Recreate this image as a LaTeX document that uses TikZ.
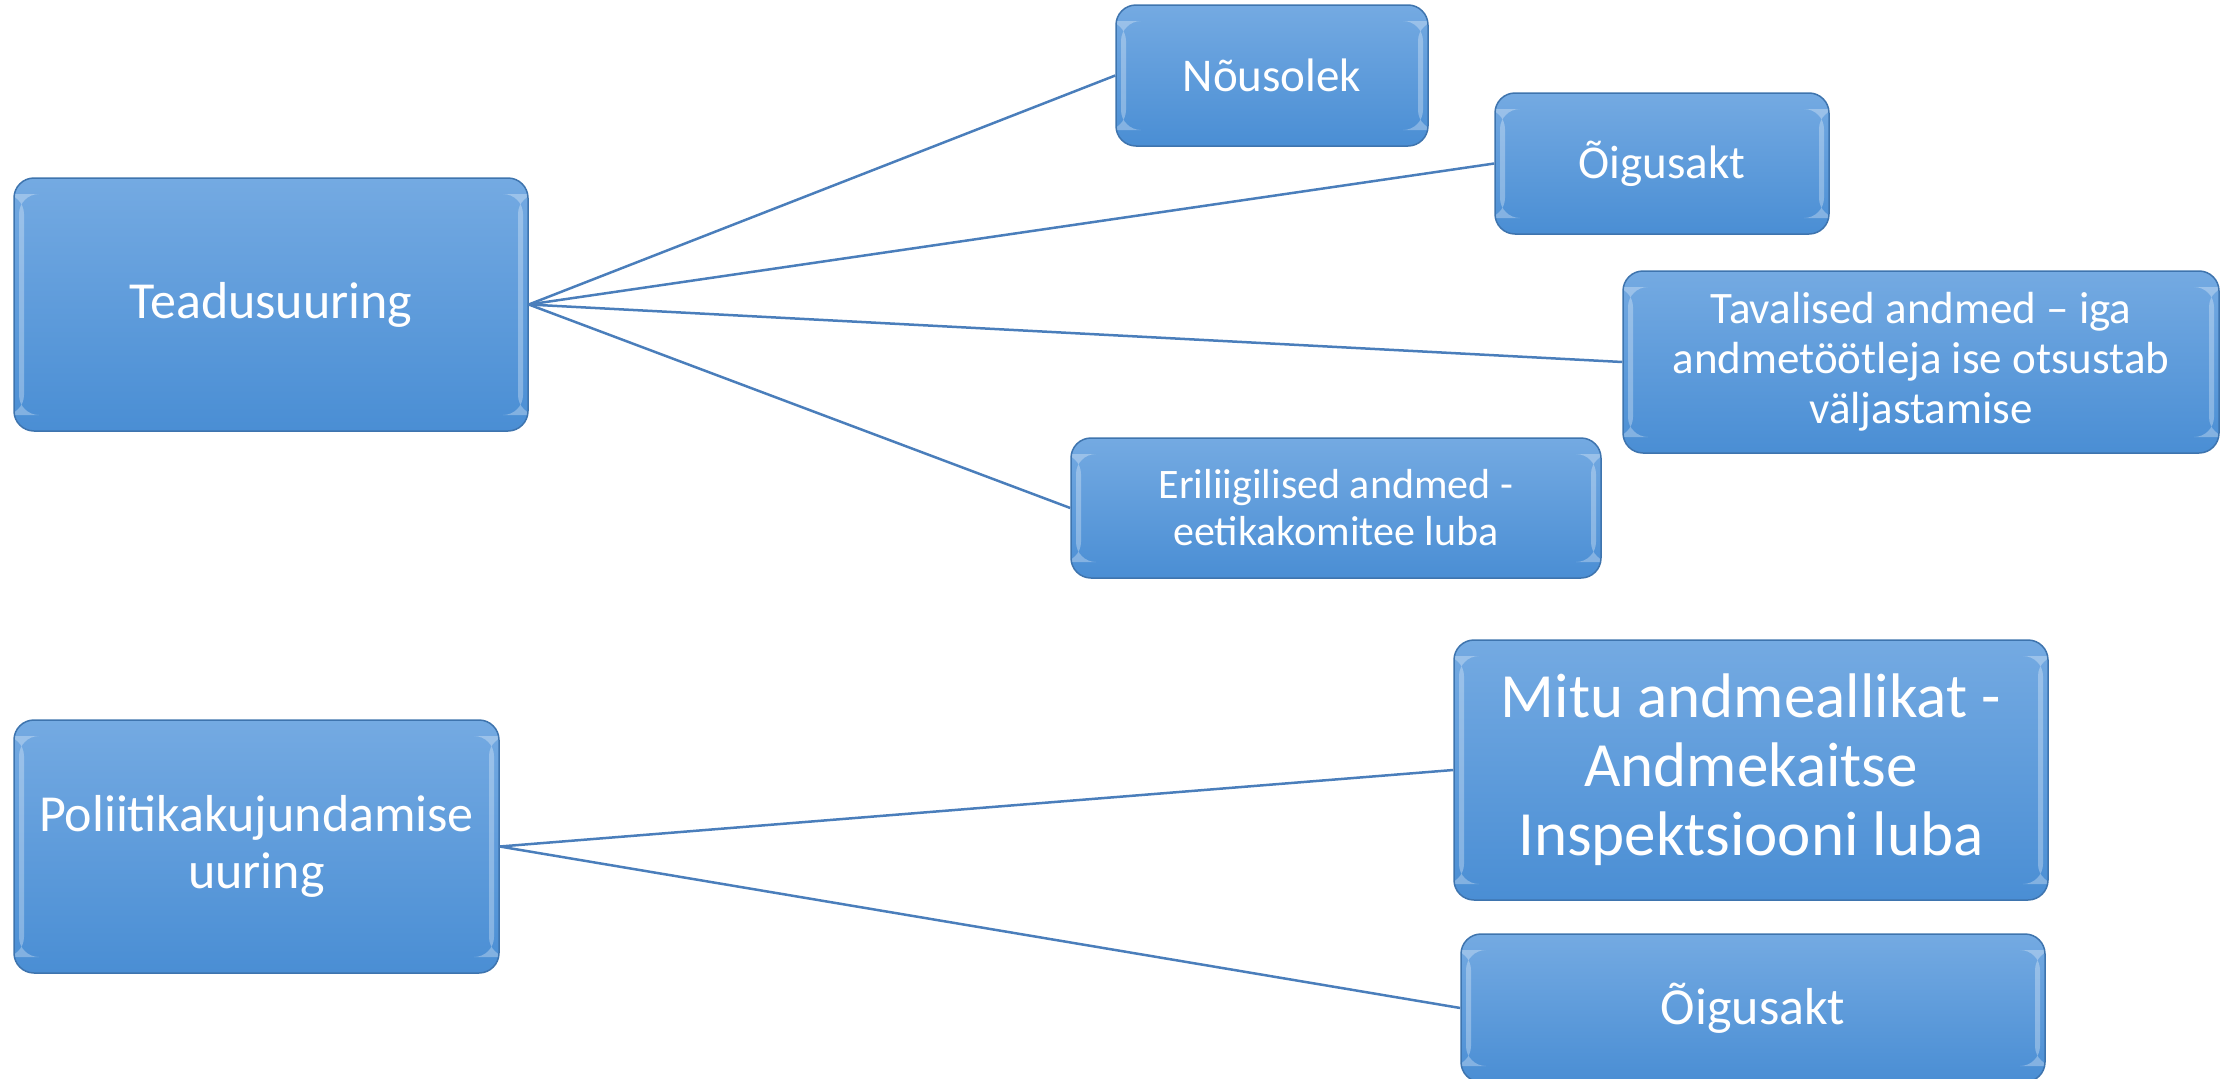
\documentclass[tikz,border=0pt]{standalone}
\usepackage{fontspec}
\setmainfont{Carlito}
\usepackage{tikz}

\definecolor{boxtop}{HTML}{74AAE2}
\definecolor{boxbot}{HTML}{4A8ED4}
\definecolor{boxedge}{HTML}{3E74AE}
\definecolor{linkblue}{HTML}{4A7EBB}

\tikzset{
  box/.style={rectangle, rounded corners=20pt, draw=boxedge, line width=1.5pt,
    top color=boxtop, bottom color=boxbot, text=white, align=center,
    inner sep=0pt,
    path picture={
      \fill[white,opacity=.3] ([shift={(5pt,-16pt)}]path picture bounding box.north west)
        rectangle ([shift={(10pt,16pt)}]path picture bounding box.south west);
      \fill[white,opacity=.3] ([shift={(-10pt,-16pt)}]path picture bounding box.north east)
        rectangle ([shift={(-5pt,16pt)}]path picture bounding box.south east);
    }},
  link/.style={draw=linkblue, line width=2.5pt}
}

\begin{document}
\begin{tikzpicture}[x=1pt, y=-1pt]
    \useasboundingbox (0,0) rectangle (2236,1079);

    \node (tead) [box, minimum width=514pt, minimum height=253pt, font=\fontsize{52}{57}\selectfont] at (271,304.5) {Teadusuuring};
    \node (nous) [box, minimum width=312pt, minimum height=141pt, font=\fontsize{47}{52}\selectfont] at (1272,75.5) {Nõusolek};
    \node (oig1) [box, minimum width=334pt, minimum height=141pt, font=\fontsize{47}{52}\selectfont] at (1662,163.5) {Õigusakt};
    \node (tava) [box, minimum width=596pt, minimum height=182pt, font=\fontsize{45}{50}\selectfont] at (1921,362) {Tavalised andmed – iga\\andmetöötleja ise otsustab\\väljastamise};
    \node (eri) [box, minimum width=530pt, minimum height=140pt, font=\fontsize{42}{47}\selectfont] at (1336,508) {Eriliigilised andmed -\\eetikakomitee luba};

    \node (poli) [box, minimum width=485pt, minimum height=253pt, font=\fontsize{52}{57}\selectfont] at (256.5,846.5) {Poliitikakujundamise\\uuring};
    \node (mitu) [box, minimum width=594pt, minimum height=260pt, font=\fontsize{63}{69}\selectfont] at (1751,770) {Mitu andmeallikat -\\Andmekaitse\\Inspektsiooni luba};
    \node (oig2) [box, minimum width=584pt, minimum height=148pt, font=\fontsize{52}{57}\selectfont] at (1753,1008) {Õigusakt};

    \draw[link] (tead.east) -- (nous.west);
    \draw[link] (tead.east) -- (oig1.west);
    \draw[link] (tead.east) -- (tava.west);
    \draw[link] (tead.east) -- (eri.west);
    \draw[link] (poli.east) -- (mitu.west);
    \draw[link] (poli.east) -- (oig2.west);
\end{tikzpicture}
\end{document}
